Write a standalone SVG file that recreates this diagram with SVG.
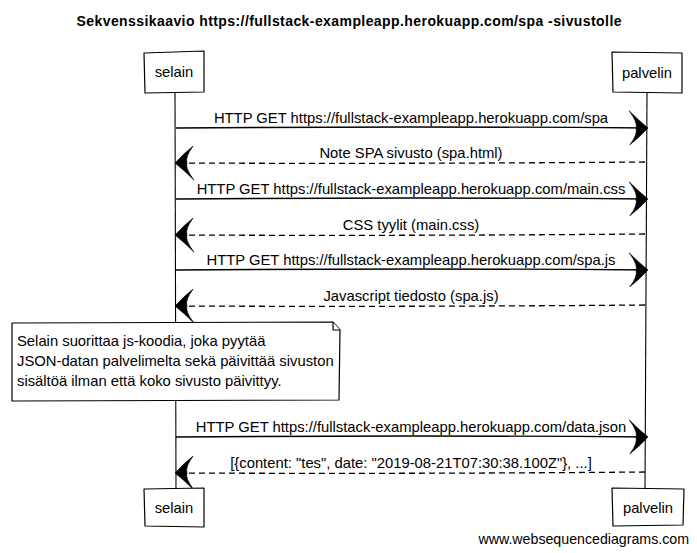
<svg xmlns="http://www.w3.org/2000/svg" width="697" height="553" viewBox="0 0 697 553">
<style>
  .lbl{font-family:"Liberation Sans",Arial,sans-serif;font-size:14.8px;fill:#000}
  .mid{text-anchor:middle}
  .title{font-family:"Liberation Sans",Arial,sans-serif;font-size:14px;font-weight:bold;fill:#000}
  .box{fill:#fff;stroke:#000;stroke-width:1.2;stroke-linejoin:round}
  .life{fill:none;stroke:#000;stroke-width:1.1}
  .req{fill:none;stroke:#000;stroke-width:1.4;marker-end:url(#ah)}
  .resp{fill:none;stroke:#000;stroke-width:1.3;stroke-dasharray:6 4;marker-end:url(#ah)}
  .foot{font-family:"Liberation Sans",Arial,sans-serif;font-size:14.2px;fill:#000}
</style>
<defs>
  <marker id="ah" markerUnits="userSpaceOnUse" viewBox="-22 -18 24 36" markerWidth="24" markerHeight="36" refX="0" refY="0" orient="auto" overflow="visible">
    <path d="M1,0 Q-9,-8 -18,-17 Q-9,-5 -11,0 Q-9,6 -17,17 Q-7,9 1,0Z" fill="#000" stroke="#000" stroke-width="0.6"/>
  </marker>
</defs>
<rect width="697" height="553" fill="#fff"/>
<text class="title mid" x="349" y="26" textLength="545" lengthAdjust="spacing">Sekvenssikaavio https://fullstack-exampleapp.herokuapp.com/spa -sivustolle</text>

<g id="lifelines">
  <path class="life" d="M175,92 L176,488"/>
  <path class="life" d="M647,93 L645,488"/>
</g>

<g id="selain-top">
  <path class="box" d="M144,53 L204,51 L204,92 L145,93 Z"/>
  <text class="lbl mid" x="174" y="77">selain</text>
</g>
<g id="palvelin-top">
  <path class="box" d="M612,52 L682,53 L682,93 L613,92 Z"/>
  <text class="lbl mid" x="647" y="78">palvelin</text>
</g>

<g id="connectors">
  <path class="req" d="M176,128 Q410,126 647,128"/>
  <text class="lbl mid" x="411" y="123">HTTP GET https://fullstack-exampleapp.herokuapp.com/spa</text>
  <path class="resp" d="M645,162 Q410,164 176,163"/>
  <text class="lbl mid" x="411" y="158">Note SPA sivusto (spa.html)</text>
  <path class="req" d="M176,199 Q410,197 647,199"/>
  <text class="lbl mid" x="411" y="194">HTTP GET https://fullstack-exampleapp.herokuapp.com/main.css</text>
  <path class="resp" d="M645,234 Q410,236 176,235"/>
  <text class="lbl mid" x="411" y="230">CSS tyylit (main.css)</text>
  <path class="req" d="M176,270 Q410,268 647,270"/>
  <text class="lbl mid" x="411" y="265">HTTP GET https://fullstack-exampleapp.herokuapp.com/spa.js</text>
  <path class="resp" d="M645,305 Q410,307 176,306"/>
  <text class="lbl mid" x="411" y="301">Javascript tiedosto (spa.js)</text>
  <path class="req" d="M176,437 Q410,435 647,437"/>
  <text class="lbl mid" x="411" y="432">HTTP GET https://fullstack-exampleapp.herokuapp.com/data.json</text>
  <path class="resp" d="M645,472 Q410,474 176,473"/>
  <text class="lbl mid" x="411" y="468">[{content: "tes", date: "2019-08-21T07:30:38.100Z"}, ...]</text>
</g>

<g id="note">
  <path class="box" d="M12,323 L333,322 L340,330 L339,400 L12,401 Z"/>
  <path class="box" d="M333,322 L333,330 L340,330"/>
  <text class="lbl" x="17" y="346">Selain suorittaa js-koodia, joka pyytää</text>
  <text class="lbl" x="17" y="366">JSON-datan palvelimelta sekä päivittää sivuston</text>
  <text class="lbl" x="17" y="386">sisältöä ilman että koko sivusto päivittyy.</text>
</g>

<g id="selain-bottom">
  <path class="box" d="M144,489 L204,488 L204,527 L145,526 Z"/>
  <text class="lbl mid" x="174" y="513">selain</text>
</g>
<g id="palvelin-bottom">
  <path class="box" d="M612,488 L684,489 L683,525 L613,526 Z"/>
  <text class="lbl mid" x="648" y="513">palvelin</text>
</g>

<text class="foot" x="689" y="544" text-anchor="end">www.websequencediagrams.com</text>
</svg>
